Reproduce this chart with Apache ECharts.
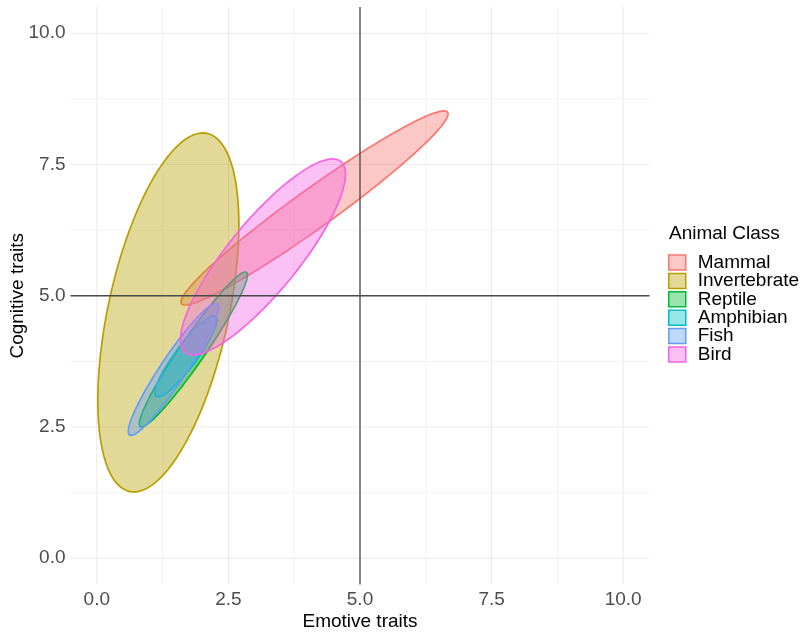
<!DOCTYPE html>
<html>
<head>
<meta charset="utf-8">
<script src="https://cdn.jsdelivr.net/npm/echarts@6/dist/echarts.min.js"></script>
<style>
html,body{margin:0;padding:0;background:#fff;}
#chart{width:810px;height:636px;}
</style>
</head>
<body>
<div id="chart"></div>
<script>
// Ellipse (stat_ellipse-like) summaries
const categories = ['Mammal', 'Invertebrate', 'Reptile', 'Amphibian', 'Fish', 'Bird'];
const colors     = ['#F8766D', '#B79F00', '#00BA38', '#00BFC4', '#619CFF', '#F564E3'];
const centerX    = [4.135, 1.359, 1.835, 1.692, 1.454, 3.156];
const centerY    = [6.672, 4.682, 3.977, 3.844, 3.596, 5.739];
const halfWidth  = [2.538, 1.340, 1.027, 0.589, 0.856, 1.568];
const halfHeight = [1.848, 3.419, 1.476, 0.771, 1.257, 1.867];
const corr       = [0.969, 0.489, 0.960, 0.900, 0.940, 0.845];

const tickValues  = [0, 2.5, 5, 7.5, 10];
const minorValues = [1.25, 3.75, 6.25, 8.75];
const refX = 5, refY = 5;

const FONT = '"Liberation Sans", Arial, sans-serif';

function hexA(hex, a) {
  const n = parseInt(hex.slice(1), 16);
  return 'rgba(' + (n >> 16 & 255) + ',' + (n >> 8 & 255) + ',' + (n & 255) + ',' + a + ')';
}

function ellipseRender(params, api) {
  const cx = api.value(0), cy = api.value(1), sx = api.value(2), sy = api.value(3), r = api.value(4);
  const s = Math.sqrt(1 - r * r);
  const pts = [];
  const N = 120;
  for (let i = 0; i < N; i++) {
    const t = 2 * Math.PI * i / N;
    const x = cx + sx * Math.cos(t);
    const y = cy + sy * (r * Math.cos(t) + s * Math.sin(t));
    pts.push(api.coord([x, y]));
  }
  return {
    type: 'polygon',
    shape: { points: pts },
    style: { fill: api.visual('color'), stroke: api.visual('borderColor') || '#000', lineWidth: 1.7 }
  };
}

function gridRender(params, api) {
  const v = api.value(0), dir = api.value(1), major = api.value(2);
  let p1, p2;
  if (dir === 0) { p1 = api.coord([v, -0.5]); p2 = api.coord([v, 10.5]); }
  else { p1 = api.coord([-0.5, v]); p2 = api.coord([10.5, v]); }
  return {
    type: 'line',
    shape: { x1: p1[0], y1: p1[1], x2: p2[0], y2: p2[1] },
    style: { stroke: major ? '#EBEBEB' : '#F3F3F3', lineWidth: major ? 1.1 : 1 }
  };
}

const gridData = [];
tickValues.forEach(v => { gridData.push([v, 0, 1]); gridData.push([v, 1, 1]); });
minorValues.forEach(v => { gridData.push([v, 0, 0]); gridData.push([v, 1, 0]); });

const series = [{
  name: '_grid', type: 'custom', renderItem: gridRender, data: gridData,
  silent: true, z: 0, legendHoverLink: false, tooltip: { show: false }
}];

categories.forEach((c, i) => {
  series.push({
    name: c, type: 'custom', renderItem: ellipseRender,
    itemStyle: { color: hexA(colors[i], 0.4), borderColor: colors[i] },
    data: [[centerX[i], centerY[i], halfWidth[i], halfHeight[i], corr[i]]],
    z: 2 + i
  });
});

series.push({
  name: '_ref', type: 'custom', renderItem: function(params, api){
    const a = api.coord([api.value(0), -0.5]), b = api.coord([api.value(0), 10.5]);
    const c = api.coord([-0.5, api.value(1)]), d = api.coord([10.5, api.value(1)]);
    return { type: 'group', children: [
      { type: 'line', shape: { x1: a[0], y1: a[1], x2: b[0], y2: b[1] }, style: { stroke: '#4a4a4a', lineWidth: 1.3 } },
      { type: 'line', shape: { x1: c[0], y1: c[1], x2: d[0], y2: d[1] }, style: { stroke: '#4a4a4a', lineWidth: 1.3 } }
    ]};
  },
  data: [[refX, refY]], silent: true, z: 20
});

const chart = echarts.init(document.getElementById('chart'), null, { renderer: 'canvas' });
chart.setOption({
  animation: false,
  backgroundColor: '#ffffff',
  textStyle: { fontFamily: FONT },
  title: {
    text: 'Animal Class', left: 664, top: 219,
    textStyle: { fontFamily: FONT, fontSize: 19, fontWeight: 'normal', color: '#000' }
  },
  legend: {
    orient: 'vertical', left: 663, top: 248,
    itemWidth: 17, itemHeight: 15, itemGap: -0.6, icon: 'rect',
    textStyle: { fontFamily: FONT, fontSize: 19, color: '#000', padding: [0, 0, 0, 7] },
    data: categories.map((c, i) => ({
      name: c, icon: 'rect',
      itemStyle: { color: hexA(colors[i], 0.4), borderColor: colors[i], borderWidth: 1.5 }
    }))
  },
  grid: { left: 70.5, top: 7, width: 579, height: 577.5, containLabel: false, outerBoundsMode: 'none' },
  xAxis: {
    type: 'value', min: -0.5, max: 10.5,
    name: 'Emotive traits', nameLocation: 'middle', nameGap: 28, nameMoveOverlap: false,
    nameTextStyle: { fontFamily: FONT, fontSize: 19, color: '#000' },
    axisLine: { show: false }, axisTick: { show: false }, splitLine: { show: false },
    axisLabel: { customValues: tickValues, formatter: v => Number(v).toFixed(1), fontFamily: FONT, fontSize: 19, color: '#4D4D4D', margin: 6 }
  },
  yAxis: {
    type: 'value', min: -0.5, max: 10.5,
    name: 'Cognitive traits', nameLocation: 'middle', nameGap: 43, nameRotate: 90, nameMoveOverlap: false,
    nameTextStyle: { fontFamily: FONT, fontSize: 19, color: '#000' },
    axisLine: { show: false }, axisTick: { show: false }, splitLine: { show: false },
    axisLabel: { customValues: tickValues, formatter: v => Number(v).toFixed(1), fontFamily: FONT, fontSize: 19, color: '#4D4D4D', margin: 5 }
  },
  series: series
});
</script>
</body>
</html>
